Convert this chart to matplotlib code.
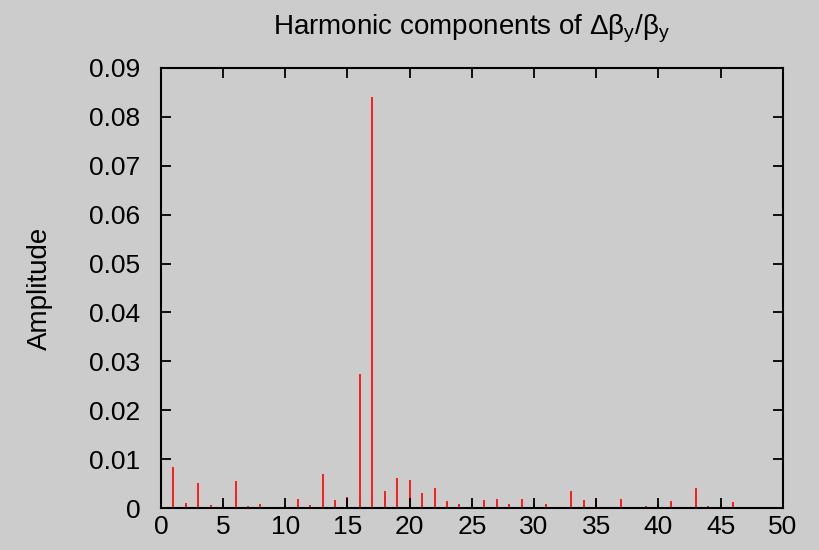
import matplotlib
matplotlib.use("Agg")
import matplotlib.pyplot as plt

# Harmonic number and amplitude of delta-beta_y / beta_y
harmonics = list(range(0, 48))
amplitude = [
    0.0129, 0.0085, 0.0010, 0.0052, 0.0007, 0.0011, 0.0056, 0.0005,
    0.0008, 0.0000, 0.0005, 0.0018, 0.0007, 0.0071, 0.0017, 0.0023,
    0.0275, 0.0840, 0.0035, 0.0062, 0.0057, 0.0031, 0.0042, 0.0015,
    0.0009, 0.0008, 0.0017, 0.0019, 0.0009, 0.0019, 0.0010, 0.0009,
    0.0001, 0.0035, 0.0016, 0.0016, 0.0000, 0.0020, 0.0003, 0.0005,
    0.0009, 0.0014, 0.0003, 0.0042, 0.0005, 0.0008, 0.0013, 0.0003,
]
x_ticks = [0, 5, 10, 15, 20, 25, 30, 35, 40, 45, 50]
y_ticks = [0, 0.01, 0.02, 0.03, 0.04, 0.05, 0.06, 0.07, 0.08, 0.09]
y_tick_labels = ["0", "0.01", "0.02", "0.03", "0.04", "0.05", "0.06", "0.07", "0.08", "0.09"]

BG = "#cccccc"

plt.rcParams["font.family"] = ["Liberation Sans", "DejaVu Sans"]
plt.rcParams["mathtext.default"] = "regular"

fig = plt.figure(figsize=(8.2, 5.5), dpi=100, facecolor=BG)
ax = fig.add_axes([0.1963, 0.0758, 0.7582, 0.8011], facecolor=BG)

ax.vlines(harmonics, 0, amplitude, color="#ff0000", linewidth=1.2)

ax.set_xlim(0, 50)
ax.set_ylim(0, 0.09)
ax.set_xticks(x_ticks)
ax.set_yticks(y_ticks)
ax.set_yticklabels(y_tick_labels)
ax.set_axisbelow(False)

ax.tick_params(direction="in", length=7, width=1.3, labelsize=19,
               top=True, right=True, colors="black")
ax.tick_params(axis="x", pad=5)
ax.tick_params(axis="y", pad=15)
for side in ax.spines.values():
    side.set_linewidth(1.5)
    side.set_color("black")

ax.set_ylabel("Amplitude", fontsize=20, labelpad=26)
ax.set_title(r"Harmonic components of Δβ$_y$/β$_y$", fontsize=20, pad=24)

fig.savefig("out.png", dpi=100, facecolor=BG)
